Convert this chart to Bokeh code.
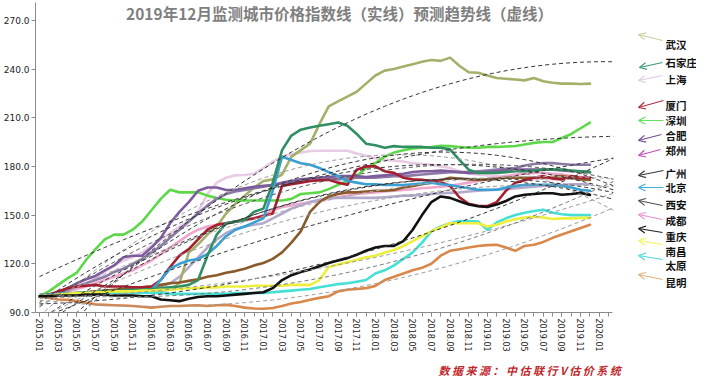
import numpy as np
from bokeh.plotting import figure
from bokeh.models import Range1d, FixedTicker, Label, Arrow, OpenHead, Title
from bokeh.embed import file_html
from bokeh.resources import INLINE

# ---------------- data ----------------
months = list(range(60))  # 0 = 2015.01 ... 59 = 2019.12
x_tick_labels = ["2015.01", "2015.03", "2015.05", "2015.07", "2015.09", "2015.11",
                 "2016.01", "2016.03", "2016.05", "2016.07", "2016.09", "2016.11",
                 "2017.01", "2017.03", "2017.05", "2017.07", "2017.09", "2017.11",
                 "2018.01", "2018.03", "2018.05", "2018.07", "2018.09", "2018.11",
                 "2019.01", "2019.03", "2019.05", "2019.07", "2019.09", "2019.11",
                 "2020.01"]
y_ticks = [90, 120, 150, 180, 210, 240, 270]
y_tick_labels = ["90.0", "120.0", "150.0", "180.0", "210.0", "240.0", "270.0"]

wuhan = [100, 100.5, 101, 101, 101.5, 102, 102, 102.5, 102.5, 103, 103, 103, 103.5, 103.5, 104,
         108, 127, 132, 138, 143, 151, 157, 162, 167, 171, 172, 175, 186, 190, 194,
         206, 217, 220, 223, 226, 231, 236, 239, 240, 241.5, 243, 244.5, 245.5, 245, 247,
         242, 238, 237.7, 236, 234.5, 234, 233.5, 233, 234.5, 232.5, 231.5, 231, 231, 230.8, 231]
shijiazhuang = [100, 100.5, 101, 101.5, 102, 102, 102.5, 103, 103, 103.5, 104, 104, 104.5, 105, 105.5,
                106, 107, 110, 125, 138, 145, 146, 147, 152, 154, 170, 190, 199, 202.6, 204,
                205, 206, 207, 205, 200, 194, 193, 191.5, 192.5, 192, 192, 192, 191.5, 191.5, 190.5,
                184, 178, 176, 176, 176, 176.5, 177, 177, 177.5, 178, 178, 178, 177.5, 177, 176.5]
shanghai = [100, 101, 102, 104, 106, 108, 111, 115, 119, 122, 124, 127, 131, 135, 139,
            143, 146, 152, 163, 170, 173, 174.5, 174.7, 175.5, 179, 183, 186, 187.5, 188.5, 189.5,
            189.6, 189.6, 189.6, 189.6, 188, 186.5, 185, 184, 183.5, 183, 182, 181.5, 181, 180, 179,
            177, 175.5, 175, 174.5, 174, 173.5, 173, 173, 172.5, 172.5, 172, 172, 172.5, 172, 172]
xiamen = [100, 101, 103, 105, 106, 106.5, 107, 106, 106, 106, 105.5, 105.5, 106, 110, 118,
          125, 129, 135, 141, 144, 145, 146, 147, 148, 149.5, 151, 168, 169, 170, 171,
          171.5, 171.7, 170, 168.7, 178, 180, 180, 177, 176, 173, 172, 171.7, 171, 170.5, 168,
          161, 157, 155.7, 155.5, 158, 165, 170, 171.5, 173, 174, 172.5, 172, 174, 173, 173]
shenzhen = [100, 103, 107, 111, 114.5, 122.5, 129, 135, 138, 138, 141, 146, 153, 160, 165.6,
            164, 164, 164, 162, 160.5, 159.5, 159, 159, 159, 159, 159, 159, 160, 163, 163.5,
            164, 166, 168.6, 171, 174, 179, 182, 186, 188.5, 190, 191, 191.5, 192, 192.7, 192.5,
            192, 191.5, 191.5, 192, 192, 192.3, 192.6, 193.5, 194.5, 195, 195, 197.6, 200, 203.5, 207]
hefei = [100, 101, 102.5, 105, 108, 110.5, 112.5, 116, 119, 124, 125, 125, 130, 136, 145,
         152, 158, 165, 167, 167, 165.5, 165.5, 166.5, 167.5, 168, 168.5, 170, 171, 172, 172.5,
         173, 173.5, 174, 174, 174, 173.5, 174, 174.5, 175, 175.5, 176.5, 177, 177, 177.5, 177,
         176.5, 176, 176, 176.5, 177, 177.5, 178, 178, 178, 178, 178, 177.5, 177, 177, 176.5]
zhengzhou = [100, 101, 102, 104, 106, 108, 110, 112, 115, 117, 120, 123, 127, 131, 136,
             141, 146, 151, 156, 160, 163, 164.5, 165.5, 166.5, 167.5, 168.5, 169.5, 170, 170.5, 171,
             171.5, 172, 172, 172.5, 173, 173, 173, 173.5, 174, 174, 174.5, 175, 175.5, 176, 176.5,
             176.5, 176.5, 177, 177.5, 178, 178.5, 179, 180.5, 181.5, 182, 182, 181.5, 181, 181, 181]
guangzhou = [100, 100.5, 101, 101.5, 102, 102.5, 103, 103.5, 104, 104.5, 105, 105.5, 106, 107, 108,
             108.5, 109.5, 110.5, 112, 113, 114.5, 115.5, 117, 119, 120.5, 123, 127, 133, 140, 152,
             158, 161.5, 163, 164, 164, 164.5, 165, 165, 165.5, 167, 168, 169, 170, 171.5, 173,
             172.5, 172, 171.7, 172, 172.5, 173, 173, 173, 173, 173, 173.5, 174, 173, 172, 171.7]
beijing = [100, 101, 101.5, 102, 102, 102.5, 102.5, 103, 103, 103, 103.5, 103.5, 104, 110, 117,
           120, 122, 123, 126, 131, 137, 141, 143, 145.5, 148, 165, 186, 184, 182, 181,
           179, 176.5, 174, 171, 170, 169, 169, 168.5, 168.5, 168.5, 169, 169.5, 170, 169, 168.5,
           167.5, 166.5, 165.6, 165.6, 165.6, 167, 168, 168.5, 168.7, 168.7, 168.7, 168, 167, 165.6, 165]
xian = [100, 100.5, 101, 101.5, 102, 102.5, 103, 103, 103.5, 104, 104, 104.5, 105, 106, 108,
        112, 118, 124, 130, 135, 139, 141.5, 143, 144, 145, 148, 151, 154, 156, 158,
        159.5, 160.5, 160.6, 160.6, 160.6, 160.6, 160.6, 161, 161.5, 162, 162, 162.5, 163, 163.5, 163.7,
        164, 164.5, 165, 165.3, 165.6, 166, 166.5, 167, 167.5, 168, 168, 168.5, 169, 169, 169]
chengdu = [100, 100.5, 101.5, 103, 104.5, 106, 108, 110, 112, 114, 116, 119, 122, 126, 130,
           134, 138, 141, 143, 144, 145, 146, 147, 148, 150, 153, 155, 156, 157, 158,
           159, 160, 161, 162, 163, 163.5, 164, 164.5, 165, 165.5, 166, 166.5, 167, 167.5, 168,
           169, 170, 171, 172, 173, 174, 175, 175.5, 176, 176, 175.5, 175, 174, 173.5, 173]
chongqing = [100, 100, 100.5, 100.5, 100.5, 101, 101, 101, 100.5, 100.5, 100.5, 100, 100, 98, 97.5,
             97, 98.5, 99.5, 100, 100, 100.5, 101, 101.5, 102, 102.5, 105, 110, 113, 115, 116.5,
             118.5, 120.5, 122, 123.5, 125.6, 128, 130, 131, 131, 134, 141, 150, 158, 161.5, 160.6,
             158.5, 156.5, 155.5, 155, 156.5, 158.7, 161.5, 162.5, 163, 163.5, 163.5, 162.5, 163, 163.7, 162.4]
nanchang = [100, 100.5, 101, 101.5, 102, 102, 102.5, 102.5, 103, 103, 103, 103.5, 103.5, 104, 104,
            104.5, 105, 105, 105.5, 105.5, 106, 106, 106, 106.5, 106.5, 106.5, 106.5, 107, 107, 107,
            110, 118, 119.5, 121, 122.5, 124, 125, 127, 128.5, 131, 134, 137, 140, 142.5, 145,
            145, 145, 145, 143, 144, 146, 147.5, 148.5, 149, 148.5, 147.6, 148, 148, 148.3, 148.3]
taiyuan = [100, 100.5, 101, 101, 101.5, 101.5, 101.5, 102, 102, 102, 102, 102, 102, 102, 101.5,
           101.5, 101.5, 101.5, 101.5, 101.5, 101.5, 102, 102, 102, 102, 102.5, 103, 103.5, 104, 104.5,
           105.5, 106.5, 107.5, 108, 109, 110, 114, 116, 119, 123, 127, 133, 140, 143, 145,
           146.4, 146.4, 146, 141, 145.5, 148, 150, 151.5, 152.5, 153.3, 151.4, 150.5, 150, 150, 150]
kunming = [100, 99, 98, 97.8, 97, 96, 95, 94.7, 94.5, 94.3, 94, 93.5, 93, 93.5, 94,
           94, 94.3, 94.5, 94, 94.5, 94.7, 94, 93, 92.5, 92.3, 92.8, 94, 95.5, 96.5, 97.8,
           99, 100, 103, 104, 104.5, 105, 106.4, 110, 112, 114, 116, 117.5, 120, 125, 128,
           129, 130, 131, 131.5, 131.7, 130, 128, 131, 131.7, 133.5, 136, 138, 140, 142, 144]

city_names = ["武汉", "石家庄", "上海", "厦门", "深圳", "合肥", "郑州", "广州",
              "北京", "西安", "成都", "重庆", "南昌", "太原", "昆明"]
city_values = [wuhan, shijiazhuang, shanghai, xiamen, shenzhen, hefei, zhengzhou, guangzhou,
               beijing, xian, chengdu, chongqing, nanchang, taiyuan, kunming]

title_text = "2019年12月监测城市价格指数线（实线）预测趋势线（虚线）"
source_text = "数 据 来 源 ： 中 估 联 行 V 估 价 系 统"

# ---------------- styles / layout ----------------
line_colors = ["#a2b06a", "#2f8f63", "#e8cbe5", "#a61f2f", "#5cd848", "#7d5c9c", "#8c7aa6", "#8b5a2b",
               "#3a9fd2", "#b3aacb", "#eea6cc", "#111111", "#eeee3c", "#45dfd6", "#d9874a"]
trend_colors = ["#333333", "#333333", "#999999", "#333333", "#333333", "#333333", "#555555", "#333333",
                "#333333", "#999999", "#aaaaaa", "#333333", "#999999", "#777777", "#999999"]
arrow_colors = ["#c9cf9e", "#3a9a70", "#e2c8e2", "#b02f40", "#62e062", "#6f5090", "#c050c0", "#3a3a3a",
                "#40b0e0", "#505050", "#e58fd2", "#202020", "#f2f25a", "#50d8e0", "#e2b07e"]
draw_order = [2, 10, 9, 0, 4, 6, 5, 7, 3, 8, 1, 14, 13, 12, 11]

# page pixel -> data helpers (frame: m=0 at px 43, 9.33 px/month; 90 at py 320, 1.6233 px/unit)
PXM, PXV = 9.33, 1.6233
def dx(px):
    return (px - 43) / PXM
def dy(py):
    return 90 + (320 - py) / PXV

legend_layout = [  # (label y, arrow start x, start y, end x, end y) in page pixels
    (52, 666, 48, 642, 42), (70, 666, 70, 643, 75), (87, 666, 83, 642, 88),
    (113, 667, 108, 642, 115), (128, 667, 128, 642, 128), (143, 665, 142, 642, 148),
    (158, 664, 157, 642, 163), (181, 667, 178, 642, 183), (195, 667, 195, 642, 195),
    (212, 666, 213, 642, 208), (228, 666, 227, 642, 222), (244, 666, 240, 642, 236),
    (259, 666, 252, 642, 248), (273, 666, 267, 642, 263), (290, 666, 287, 642, 282),
]

FRAME_W, FRAME_H = 661, 312
x0 = -4 / PXM
x1 = x0 + FRAME_W / PXM
y1 = 90 + FRAME_H / PXV

p = figure(frame_width=FRAME_W, frame_height=FRAME_H, x_range=Range1d(x0, x1), y_range=Range1d(90, y1),
           output_backend="svg", toolbar_location=None,
           min_border_left=31, min_border_right=0, min_border_top=0, min_border_bottom=0)
p.outline_line_color = None
p.grid.visible = False
p.background_fill_color = "white"
p.border_fill_color = "white"

# axes
p.xaxis.ticker = FixedTicker(ticks=list(range(0, 61, 2)), minor_ticks=list(range(0, 62)))
p.xaxis.major_label_overrides = {i * 2: lab for i, lab in enumerate(x_tick_labels)}
p.xaxis.major_label_orientation = "vertical"
p.xaxis.bounds = (x0, 61.4)
p.yaxis.ticker = FixedTicker(ticks=y_ticks, minor_ticks=[])
p.yaxis.major_label_overrides = {t: lab for t, lab in zip(y_ticks, y_tick_labels)}
p.yaxis.bounds = (90, 281)
for ax in (p.xaxis, p.yaxis):
    ax.axis_line_color = "#8a8a8a"
    ax.major_tick_line_color = "#8a8a8a"
    ax.minor_tick_line_color = "#8a8a8a"
    ax.major_tick_in = 0
    ax.minor_tick_in = 0
    ax.major_tick_out = 4
    ax.minor_tick_out = 4
    ax.major_label_text_color = "#222222"
    ax.major_label_text_font = "DejaVu Sans"
    ax.major_label_standoff = 2
p.xaxis.major_label_text_font_size = "8px"
p.yaxis.major_label_text_font_size = "9px"

# source note below the axis
p.add_layout(Title(text=source_text, align="left", offset=403, standoff=10,
                   text_font="Noto Sans CJK SC", text_font_size="11px", text_font_style="bold italic",
                   text_color="#c0282c"), "below")

# solid series
for i in draw_order:
    p.line(months, city_values[i], line_color=line_colors[i], line_width=2.6,
           line_join="round", line_cap="round")

# dashed trend lines (2nd-order polynomial fit of each series, forecast to 2020.02)
tx = np.linspace(0, 61.5, 124)
for i in range(len(city_values)):
    coef = np.polyfit(months, city_values[i], 2)
    p.line(tx, np.polyval(coef, tx), line_color=trend_colors[i], line_width=1, line_dash="4 3")

# legend: arrows + names
for i, name in enumerate(city_names):
    ly, sx, sy, ex, ey = legend_layout[i]
    p.add_layout(Arrow(x_start=dx(sx), y_start=dy(sy), x_end=dx(ex), y_end=dy(ey),
                       line_color=arrow_colors[i], line_width=1.2,
                       end=OpenHead(size=7, line_color=arrow_colors[i], line_width=1.2)))
    p.add_layout(Label(x=dx(669), y=dy(ly), text=name, text_align="left", text_baseline="middle",
                       text_font="Noto Sans CJK SC", text_font_size="10.5px", text_font_style="bold",
                       text_color="#111111"))

# title
p.add_layout(Label(x=dx(343), y=dy(9), text=title_text, text_align="center", text_baseline="top",
                   text_font="Noto Sans CJK SC", text_font_size="15.5px", text_font_style="bold",
                   text_color="#7f7f7f"))

open("out.html", "w").write(file_html(p, INLINE))
